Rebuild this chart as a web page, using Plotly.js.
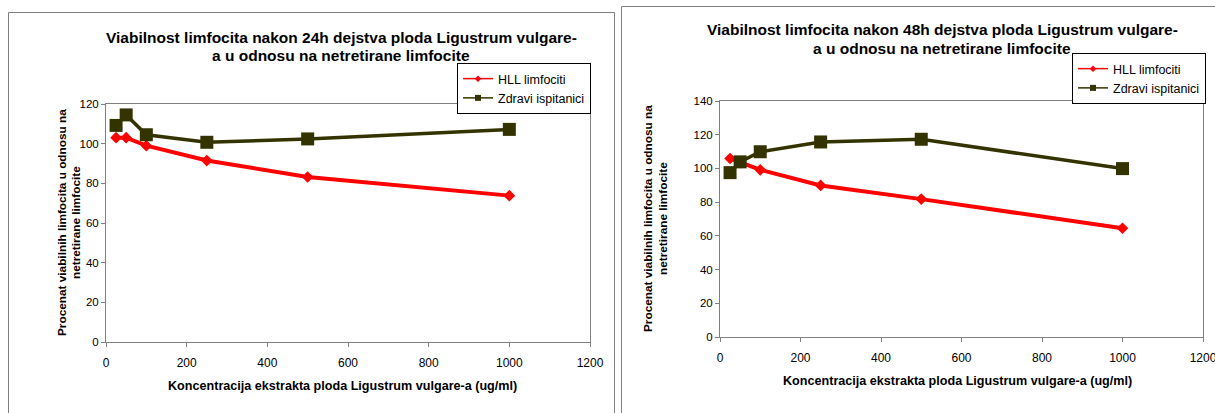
<!DOCTYPE html>
<html>
<head>
<meta charset="utf-8">
<script src="https://cdn.plot.ly/plotly-3.0.1.min.js"></script>
<style>html,body{margin:0;padding:0;background:#fff;}#chart{width:1215px;height:413px;}</style>
</head>
<body>
<div id="chart"></div>
<script>
// Data
const concentrations = [25, 50, 100, 250, 500, 1000];
const hll24 = [103, 103, 99, 91.5, 83.2, 73.8];
const zdravi24 = [109.2, 114.5, 104.5, 100.7, 102.4, 107.2];
const hll48 = [105.9, 103.5, 99.2, 89.9, 81.8, 64.5];
const zdravi48 = [97.5, 103.9, 109.9, 115.7, 117.3, 99.9];
const seriesNames = ["HLL limfociti", "Zdravi ispitanici"];
const title24 = ["Viabilnost limfocita nakon 24h dejstva ploda Ligustrum vulgare-", "a u odnosu na netretirane limfocite"];
const title48 = ["Viabilnost limfocita nakon 48h dejstva ploda Ligustrum vulgare-", "a u odnosu na netretirane limfocite"];
const xTitle = "Koncentracija ekstrakta ploda Ligustrum vulgare-a (ug/ml)";
const yTitle = ["Procenat viabilnih limfocita u odnosu na", "netretirane limfocite"];

const W = 1215, H = 413;
const px = v => v / W;
const py = v => 1 - v / H;
const RED = "#FF0000", OLIVE = "#333300";
const FONT = "Liberation Sans, Arial, sans-serif";

function mainTraces(xa, ya, hll, zd) {
  return [
    {x: concentrations, y: hll, xaxis: xa, yaxis: ya, mode: "lines+markers", showlegend: false,
     line: {color: RED, width: 4}, marker: {symbol: "diamond", size: 9, color: RED}, cliponaxis: false},
    {x: concentrations, y: zd, xaxis: xa, yaxis: ya, mode: "lines+markers", showlegend: false,
     line: {color: OLIVE, width: 3.5}, marker: {symbol: "square", size: 13, color: OLIVE}, cliponaxis: false}
  ];
}
function legendTraces(xa, ya, lg) {
  return [
    {x: [null], y: [null], xaxis: xa, yaxis: ya, mode: "lines+markers", name: seriesNames[0], legend: lg, legendgroup: lg + "a",
     line: {color: RED, width: 1.5}, marker: {symbol: "diamond", size: 5, color: RED}},
    {x: [null], y: [null], xaxis: xa, yaxis: ya, mode: "lines+markers", name: seriesNames[1], legend: lg, legendgroup: lg + "b",
     line: {color: OLIVE, width: 1.5}, marker: {symbol: "square", size: 6, color: OLIVE}}
  ];
}

const data = [].concat(
  mainTraces("x", "y", hll24, zdravi24),
  mainTraces("x2", "y2", hll48, zdravi48),
  legendTraces("x", "y", "legend"),
  legendTraces("x2", "y2", "legend2")
);

const xCommon = {range: [0, 1200], dtick: 200, tick0: 0, showgrid: false, zeroline: false,
  showline: true, mirror: true, linecolor: "#808080", linewidth: 1,
  ticks: "outside", ticklen: 4, tickcolor: "#808080", ticklabeloverflow: "allow", ticklabelstandoff: 6,
  tickfont: {family: FONT, size: 12, color: "#000"}, fixedrange: true};
const yCommon = {dtick: 20, tick0: 0, showgrid: false, zeroline: false,
  showline: true, mirror: true, linecolor: "#808080", linewidth: 1,
  ticks: "outside", ticklen: 4, tickcolor: "#808080",
  tickfont: {family: FONT, size: 11.5, color: "#000"}, fixedrange: true};

const legendCommon = {bgcolor: "#fff", bordercolor: "#000", borderwidth: 1,
  font: {family: FONT, size: 12.5, color: "#000"}, xanchor: "left", yanchor: "top",
  itemwidth: 30, traceorder: "grouped", tracegroupgap: 0};

function ann(text, x, y, size, angle) {
  return {text: text, xref: "paper", yref: "paper", x: px(x), y: py(y), xanchor: "center", yanchor: "middle",
    textangle: angle || 0, showarrow: false, font: {family: FONT, size: size, color: "#000", weight: "bold"}};
}

const layout = {
  width: W, height: H,
  margin: {l: 0, r: 0, t: 0, b: 0},
  paper_bgcolor: "#fff", plot_bgcolor: "#fff",
  showlegend: true,
  xaxis: Object.assign({}, xCommon, {domain: [px(106), px(590)], anchor: "y"}),
  yaxis: Object.assign({}, yCommon, {range: [0, 120], domain: [py(342), py(104)], anchor: "x"}),
  xaxis2: Object.assign({}, xCommon, {domain: [px(720), px(1203)], anchor: "y2"}),
  yaxis2: Object.assign({}, yCommon, {range: [0, 140], domain: [py(337), py(101)], anchor: "x2"}),
  legend: Object.assign({}, legendCommon, {x: px(457), y: py(63)}),
  legend2: Object.assign({}, legendCommon, {x: px(1072), y: py(53)}),
  shapes: [
    {type: "rect", xref: "paper", yref: "paper", x0: px(8.5), x1: px(614.5), y0: py(430), y1: py(12.5),
     line: {color: "#808080", width: 1}, fillcolor: "rgba(0,0,0,0)", layer: "below"},
    {type: "rect", xref: "paper", yref: "paper", x0: px(621.5), x1: px(1230), y0: py(430), y1: py(6.5),
     line: {color: "#808080", width: 1}, fillcolor: "rgba(0,0,0,0)", layer: "below"}
  ],
  annotations: [
    ann(title24[0], 341, 38, 15.5), ann(title24[1], 341, 55, 15.5),
    ann(title48[0], 942, 30, 15.5), ann(title48[1], 942, 48, 15.5),
    ann(xTitle, 342, 386, 12.6), ann(xTitle, 957, 381, 12.6),
    ann(yTitle[0], 62, 223, 11.8, -90), ann(yTitle[1], 76, 223, 11.8, -90),
    ann(yTitle[0], 648, 219, 11.8, -90), ann(yTitle[1], 663, 219, 11.8, -90)
  ]
};

Plotly.newPlot("chart", data, layout, {staticPlot: true, displayModeBar: false});
</script>
</body>
</html>
